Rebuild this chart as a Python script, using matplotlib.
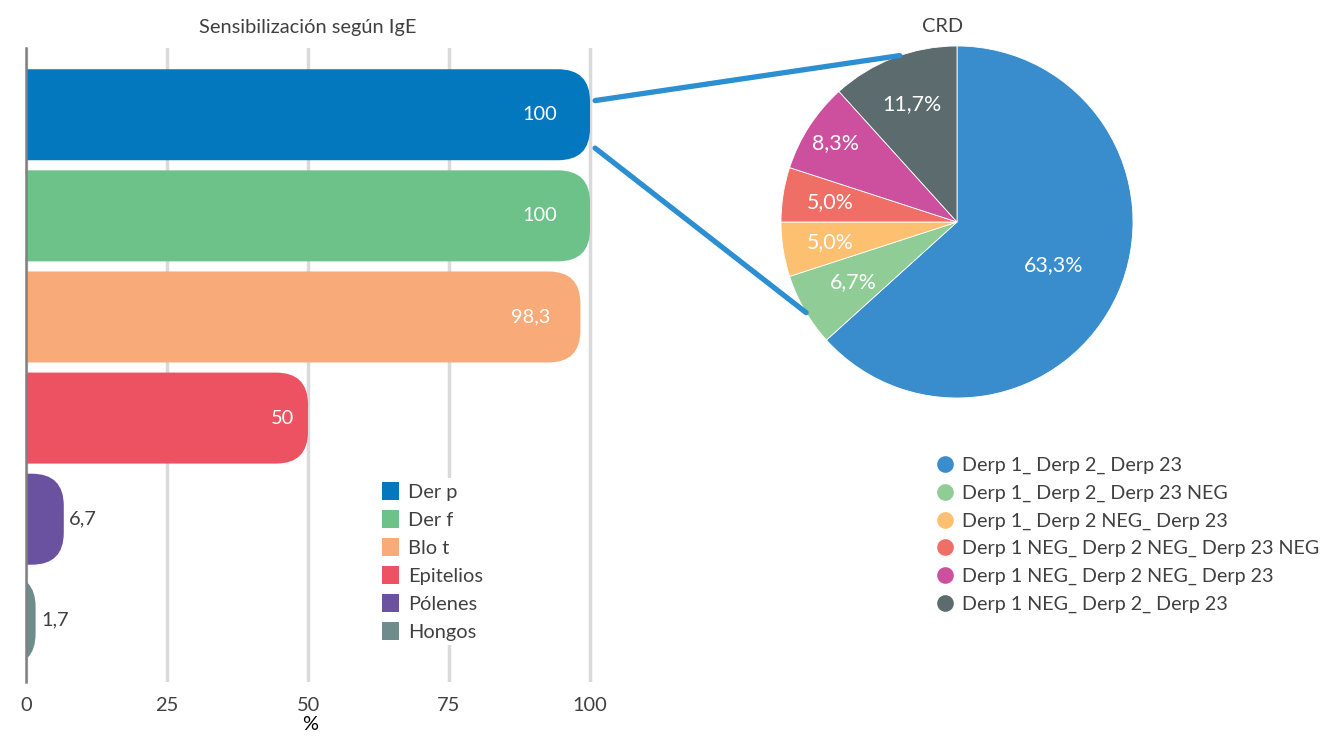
import matplotlib
matplotlib.use("Agg")
import matplotlib.pyplot as plt
from matplotlib.patches import FancyBboxPatch, Patch, ConnectionPatch
from matplotlib.lines import Line2D
import numpy as np

plt.rcParams["font.family"] = ["Lato", "DejaVu Sans"]
plt.rcParams["text.color"] = "#404040"

# ---- data -------------------------------------------------------------
bar_labels = ["Der p", "Der f", "Blo t", "Epitelios", "Pólenes", "Hongos"]
bar_values = [100, 100, 98.3, 50, 6.7, 1.7]
bar_text = ["100", "100", "98,3", "50", "6,7", "1,7"]
bar_colors = ["#0478be", "#6dc28a", "#f8aa78", "#ec5262", "#6a52a0", "#6e8c8c"]
x_ticks = [0, 25, 50, 75, 100]

pie_labels = [
    "Derp 1_ Derp 2_ Derp 23",
    "Derp 1_ Derp 2_ Derp 23 NEG",
    "Derp 1_ Derp 2 NEG_ Derp 23",
    "Derp 1 NEG_ Derp 2 NEG_ Derp 23 NEG",
    "Derp 1 NEG_ Derp 2 NEG_ Derp 23",
    "Derp 1 NEG_ Derp 2_ Derp 23",
]
pie_values = [63.3, 6.7, 5.0, 5.0, 8.3, 11.7]
pie_text = ["63,3%", "6,7%", "5,0%", "5,0%", "8,3%", "11,7%"]
pie_colors = ["#3a8dcc", "#90cc96", "#fdc070", "#ef6e65", "#cc509e", "#5c6b6e"]
pie_label_dist = [0.6, 0.68, 0.73, 0.73, 0.82, 0.72]

W, H = 1321, 742
FS = 14.4
fig = plt.figure(figsize=(W / 100, H / 100), dpi=100)

# ---- bar chart --------------------------------------------------------
sx = 5.64                      # px per % unit
xmax = 100.6
ax = fig.add_axes([26 / W, 1 - 682 / H, sx * xmax / W, 634 / H])
ylim = (5.61, -0.66)
ax.set_xlim(0, xmax)
ax.set_ylim(*ylim)
ax.set_axisbelow(True)
ax.grid(axis="x", color="#dadada", lw=2.5)
ax.set_xticks(x_ticks)
ax.set_xticklabels([str(t) for t in x_ticks], fontsize=FS)
ax.set_yticks([])
ax.tick_params(axis="x", length=0, pad=11, colors="#404040")
for s in ["top", "right", "bottom"]:
    ax.spines[s].set_visible(False)
ax.spines["left"].set_color("#808080")
ax.spines["left"].set_linewidth(1.8)
ax.set_xlabel("%", fontsize=FS, labelpad=1)
ax.set_title("Sensibilización según IgE", fontsize=FS, pad=11, x=100 / xmax / 2)

sy = 634 / abs(ylim[0] - ylim[1])     # px per y unit
r = 32 / sx
bh = 0.9
for i, (v, c) in enumerate(zip(bar_values, bar_colors)):
    box = FancyBboxPatch((-r, i - bh / 2), v + r, bh,
                         boxstyle=f"round,pad=0,rounding_size={r}",
                         mutation_aspect=sx / sy, fc=c, ec="none", zorder=2)
    ax.add_patch(box)
    if v >= 40:
        ax.text(0.91 * v, i, bar_text[i], ha="center", va="center",
                color="white", fontsize=FS, zorder=3)
    else:
        ax.annotate(bar_text[i], (v, i), xytext=(4, 0), textcoords="offset points",
                    ha="left", va="center", color="#404040", fontsize=FS, zorder=3)

handles = [Patch(fc=c, ec="none") for c in bar_colors]
leg = ax.legend(handles, bar_labels, loc="upper left",
                bbox_to_anchor=(378 / W, 1 - 478 / H), bbox_transform=fig.transFigure,
                fontsize=FS, frameon=True, fancybox=False, borderpad=0.2,
                handlelength=0.85, handleheight=1.0, handletextpad=0.45,
                labelspacing=0.46, borderaxespad=0)
leg.get_frame().set_edgecolor("none")
leg.get_frame().set_facecolor("white")
leg.get_frame().set_alpha(1)

# ---- pie chart --------------------------------------------------------
R = 176
axp = fig.add_axes([(957 - 180) / W, 1 - (222 + 180) / H, 360 / W, 360 / H])
wedges, _ = axp.pie(pie_values, colors=pie_colors, startangle=90, counterclock=False,
                    radius=1, wedgeprops=dict(edgecolor="white", linewidth=0.6))
lim = 180 / R
axp.set_xlim(-lim, lim)
axp.set_ylim(-lim, lim)
axp.set_aspect("equal")
for w, t, d in zip(wedges, pie_text, pie_label_dist):
    ang = np.deg2rad((w.theta1 + w.theta2) / 2)
    axp.text(d * np.cos(ang), d * np.sin(ang), t, ha="center", va="center",
             color="white", fontsize=FS + 1)
axp.set_title("CRD", fontsize=FS, x=0.46, pad=7)

pie_handles = [Line2D([], [], ls="none", marker="o", markersize=12,
                      markerfacecolor=c, markeredgecolor="none") for c in pie_colors]
fig.legend(pie_handles, pie_labels, loc="upper left",
           bbox_to_anchor=(935 / W, 1 - 457 / H), fontsize=FS - 0.2, frameon=False,
           borderpad=0, handlelength=1.0, handletextpad=0.35, labelspacing=0.53,
           borderaxespad=0)

# ---- connector lines --------------------------------------------------
for ya, ang in [(-0.14, 109), (0.33, 211)]:
    a = np.deg2rad(ang)
    con = ConnectionPatch(xyA=(100.9, ya), coordsA=ax.transData,
                          xyB=(np.cos(a), np.sin(a)), coordsB=axp.transData,
                          color="#2b8fd1", lw=3.8, capstyle="round", zorder=5)
    fig.add_artist(con)

fig.savefig("out.png", dpi=100)
